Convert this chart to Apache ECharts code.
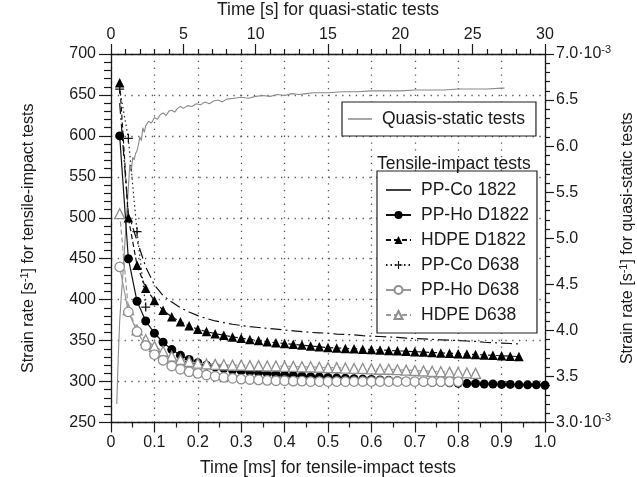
<!DOCTYPE html>
<html>
<head>
<meta charset="utf-8">
<script src="https://cdn.jsdelivr.net/npm/echarts@6/dist/echarts.min.js"></script>
<style>html,body{margin:0;padding:0;background:#fff}#c{width:637px;height:477px}</style>
</head>
<body>
<div id="c"></div>
<script>
// ---- data ----
const tImpact = [0.02,0.04,0.06,0.08,0.10,0.12,0.14,0.16,0.18,0.20,0.22,0.24,0.26,0.28,0.30,0.32,0.34,0.36,0.38,0.40,0.42,0.44,0.46,0.48,0.50,0.52,0.54,0.56,0.58,0.60,0.62,0.64,0.66,0.68,0.70,0.72,0.74,0.76,0.78,0.80,0.82,0.84,0.86,0.88,0.90,0.92,0.94,0.96,0.98,1.00];
const ppCo1822 = [640,505,472,440,418,405,397,390,385,380.5,377,374,372,370,368.5,367,366,365,364,363,362,361,360,359.5,359,358,357.5,357,356,355.5,355,354.5,354,353,352.5,352,351.5,351,350.5,350,349.5,349,348,347.5,347,346.5,346];
const ppHoD1822 = [600,450,398,374,359,348,339,332,327,323,320,318,316,314,313,312,311,310,309,308,307.5,307,306,305.5,305,304.5,304,303.5,303,302.5,302,301.5,301,300.5,300,299.5,299,299,298.5,298,297.5,297.5,297,297,296.5,296.5,296,296,296,295.5];
const hdpeD1822 = [665,500,442,414,399,387,379,373,368,364,361,358.5,356.5,354.5,353,351.5,350,348.5,347.5,346.5,345.5,344.5,343.5,342.5,341.5,341,340.5,340,339.5,339,338.5,338,337.5,337,336.5,336,335.5,335,334.5,334,333.5,333,332.5,332,331.5,331,330.5];
const ppCoD638 = [657,597,483,391];
const ppHoD638 = [440,385,361,344,333,326,319,315,312,310,308,306.5,305,304,303,302.5,302,301.5,301,301,300.5,300.5,300,300,300,300,300,300,300,300,300,300,300,300,300,300,300,300,300,300];
const hdpeD638 = [505,388,363,351,343,337,331,327,324.5,322.5,321.5,321,320.5,320,320,319.5,319.5,319,319,318.5,318.5,318,318,317.5,317,317,316.5,316,316,315.5,315,315,314.5,314,313.5,313,312.5,312,311.5,311,310.5,310];
const quasiTime = [0.4,0.5,0.6,0.7,0.8,0.9,1.0,1.1,1.2,1.3,1.4,1.5,1.6,1.7,1.8,1.9,2.0,2.1,2.2,2.3,2.4,2.5,2.6,2.8,3.0,3.2,3.4,3.6,3.8,4.0,4.2,4.4,4.6,4.8,5.0,5.3,5.6,5.9,6.2,6.5,6.8,7.1,7.4,7.7,8.0,8.5,9.0,9.5,10,10.5,11,11.5,12,12.5,13,13.5,14,15,16,17,18,19,20,21,22,23,24,25,26,27,27.2];
const quasiRate = [3.2,3.7,4.1,4.35,4.55,4.8,5.05,5.3,5.55,5.8,5.72,5.88,5.85,5.92,5.95,6.02,6.1,6.06,6.2,6.15,6.22,6.2,6.27,6.25,6.31,6.29,6.34,6.36,6.33,6.38,6.39,6.37,6.41,6.43,6.41,6.44,6.43,6.46,6.45,6.48,6.46,6.49,6.5,6.48,6.51,6.52,6.53,6.52,6.54,6.55,6.54,6.56,6.55,6.57,6.56,6.57,6.58,6.58,6.59,6.59,6.6,6.6,6.6,6.61,6.61,6.61,6.62,6.62,6.62,6.63,6.63];
const impactNames = ['PP-Co 1822','PP-Ho D1822','HDPE D1822','PP-Co D638','PP-Ho D638','HDPE D638'];
const quasiName = 'Quasis-static tests';

// ---- chart ----
const FF = '"Liberation Sans", Arial, Helvetica, sans-serif';
const pair = (vals) => vals.map((v, i) => [tImpact[i], v]);
const plusPath = 'path://M4.3,0h1.4v4.3h4.3v1.4h-4.3v4.3h-1.4v-4.3h-4.3v-1.4h4.3z';
const lineIcon = 'path://M0,4.2H25V5.8H0Z M0,0H0.01V0.01H0Z M25,10H24.99V9.99H25Z';
const axisCol = '#1a1a1a';
const gridLine = {show: true, lineStyle: {color: '#555', width: 1.3, type: [1.3, 5.5]}};
const richSup = {
  a: {fontSize: 16, fontFamily: FF, color: '#1a1a1a', lineHeight: 20},
  s: {fontSize: 11, fontFamily: FF, color: '#1a1a1a', lineHeight: 20, verticalAlign: 'top', padding: [0, 0, 6, 0]}
};
const chart = echarts.init(document.getElementById('c'), null, {renderer: 'canvas'});
const option = {
  animation: false,
  backgroundColor: '#fff',
  textStyle: {fontFamily: FF},
  title: {
    text: 'Tensile-impact tests', left: 377, top: 154, padding: 0,
    textStyle: {fontSize: 17.5, fontWeight: 'normal', color: '#1a1a1a', fontFamily: FF, lineHeight: 20}
  },
  grid: {left: 111, right: 92, top: 54, bottom: 54.5, containLabel: false, outerBoundsMode: 'none'},
  legend: [
    {
      data: [{name: quasiName, icon: lineIcon, itemStyle: {color: '#8a8a8a'}}],
      orient: 'vertical', left: 342, top: 102,
      padding: [7, 11, 7, 6], backgroundColor: '#fff', borderColor: '#222', borderWidth: 1.2, borderRadius: 0,
      itemWidth: 24, itemHeight: 10, selectedMode: false,
      textStyle: {fontSize: 17.5, color: '#1a1a1a', fontFamily: FF, lineHeight: 20, padding: [0, 0, 0, 5]}
    },
    {
      data: [
        {name: impactNames[0], icon: lineIcon, itemStyle: {color: '#000'}},
        impactNames[1], impactNames[2], impactNames[3], impactNames[4], impactNames[5]
      ],
      orient: 'vertical', left: 377, top: 171,
      padding: [9, 8, 8, 8], backgroundColor: '#fff', borderColor: '#222', borderWidth: 1.2, borderRadius: 0,
      itemWidth: 25, itemHeight: 10, itemGap: 5, selectedMode: false,
      textStyle: {fontSize: 17.5, color: '#1a1a1a', fontFamily: FF, lineHeight: 20, padding: [0, 0, 0, 5]}
    }
  ],
  xAxis: [
    {
      type: 'value', position: 'bottom', min: 0, max: 1, interval: 0.1,
      name: 'Time [ms] for tensile-impact tests', nameLocation: 'middle', nameGap: 37,
      nameTextStyle: {fontSize: 17.5, color: '#1a1a1a', fontFamily: FF},
      axisLine: {show: true, onZero: false, lineStyle: {color: axisCol, width: 1.3}},
      axisTick: {show: true, inside: false, length: 10, lineStyle: {color: axisCol, width: 1.2}},
      minorTick: {show: true, splitNumber: 2, length: 5, lineStyle: {color: axisCol, width: 1.2}},
      axisLabel: {fontSize: 16, color: '#1a1a1a', margin: 12, fontFamily: FF,
        formatter: v => (v === 0 ? '0' : v.toFixed(1))},
      splitLine: gridLine
    },
    {
      type: 'value', position: 'top', min: 0, max: 30, interval: 5,
      name: 'Time [s] for quasi-static tests', nameLocation: 'middle', nameGap: 30, nameMoveOverlap: false,
      nameTextStyle: {fontSize: 17.5, color: '#1a1a1a', fontFamily: FF, lineHeight: 27},
      axisLine: {show: true, onZero: false, lineStyle: {color: axisCol, width: 1.3}},
      axisTick: {show: true, inside: false, length: 10, lineStyle: {color: axisCol, width: 1.2}},
      minorTick: {show: true, splitNumber: 5, length: 5, lineStyle: {color: axisCol, width: 1.2}},
      axisLabel: {fontSize: 16, color: '#1a1a1a', margin: 11, fontFamily: FF},
      splitLine: {show: false}
    }
  ],
  yAxis: [
    {
      type: 'value', position: 'left', min: 250, max: 700, interval: 50,
      name: '{a|Strain rate [s}{s|-1}{a|] for tensile-impact tests}',
      nameLocation: 'middle', nameRotate: 90, nameGap: 72,
      nameTextStyle: {rich: richSup},
      axisLine: {show: true, onZero: false, lineStyle: {color: axisCol, width: 1.3}},
      axisTick: {show: true, inside: false, length: 12, lineStyle: {color: axisCol, width: 1.2}},
      minorTick: {show: true, splitNumber: 5, length: 7, lineStyle: {color: axisCol, width: 1.2}},
      axisLabel: {fontSize: 16, color: '#1a1a1a', margin: 15, fontFamily: FF},
      splitLine: gridLine
    },
    {
      type: 'value', position: 'right', min: 3, max: 7, interval: 0.5,
      name: '{a|Strain rate [s}{s|-1}{a|] for quasi-static tests}',
      nameLocation: 'middle', nameRotate: 90, nameGap: 73, nameMoveOverlap: false,
      nameTextStyle: {rich: richSup},
      axisLine: {show: true, onZero: false, lineStyle: {color: axisCol, width: 1.3}},
      axisTick: {show: true, inside: false, length: 9, lineStyle: {color: axisCol, width: 1.2}},
      minorTick: {show: true, splitNumber: 5, length: 5, lineStyle: {color: axisCol, width: 1.2}},
      axisLabel: {color: '#1a1a1a', margin: 11, fontFamily: FF, fontSize: 16,
        formatter: v => ((v === 7 || v === 3) ? '{a|' + v.toFixed(1) + '·10}{s|-3}' : v.toFixed(1)),
        rich: richSup},
      splitLine: {show: false}
    }
  ],
  series: [
    {
      name: quasiName, type: 'line', xAxisIndex: 1, yAxisIndex: 1, symbol: 'none',
      data: quasiTime.map((t, i) => [t, quasiRate[i]]),
      lineStyle: {color: '#8a8a8a', width: 1.1}, itemStyle: {color: '#8a8a8a'}, z: 2
    },
    {
      name: impactNames[0], type: 'line', symbol: 'none', data: pair(ppCo1822),
      lineStyle: {color: '#111', width: 1.2, type: [11, 4, 2, 4]}, itemStyle: {color: '#000'}, z: 3
    },
    {
      name: impactNames[2], type: 'line', symbol: 'triangle', symbolSize: 9.5, showAllSymbol: true,
      data: pair(hdpeD1822),
      lineStyle: {color: '#111', width: 1.2, type: [5, 3]}, itemStyle: {color: '#000'}, z: 3
    },
    {
      name: impactNames[1], type: 'line', symbol: 'circle', symbolSize: 9, showAllSymbol: true,
      data: pair(ppHoD1822),
      lineStyle: {color: '#111', width: 1.2}, itemStyle: {color: '#000'}, z: 4
    },
    {
      name: impactNames[3], type: 'line', symbol: plusPath, symbolSize: 9, showAllSymbol: true,
      data: pair(ppCoD638),
      lineStyle: {color: '#222', width: 1.2, type: [1.5, 3]}, itemStyle: {color: '#111'}, z: 4
    },
    {
      name: impactNames[5], type: 'line', symbol: 'triangle', symbolSize: 10, showAllSymbol: true,
      data: pair(hdpeD638),
      lineStyle: {color: '#999', width: 1.2, type: [5, 3]},
      itemStyle: {color: '#fff', borderColor: '#8f8f8f', borderWidth: 1.3}, z: 5
    },
    {
      name: impactNames[4], type: 'line', symbol: 'circle', symbolSize: 9.5, showAllSymbol: true,
      data: pair(ppHoD638),
      lineStyle: {color: '#999', width: 1.2},
      itemStyle: {color: '#fff', borderColor: '#8f8f8f', borderWidth: 1.3}, z: 6
    }
  ]
};
chart.setOption(option);
</script>
</body>
</html>
